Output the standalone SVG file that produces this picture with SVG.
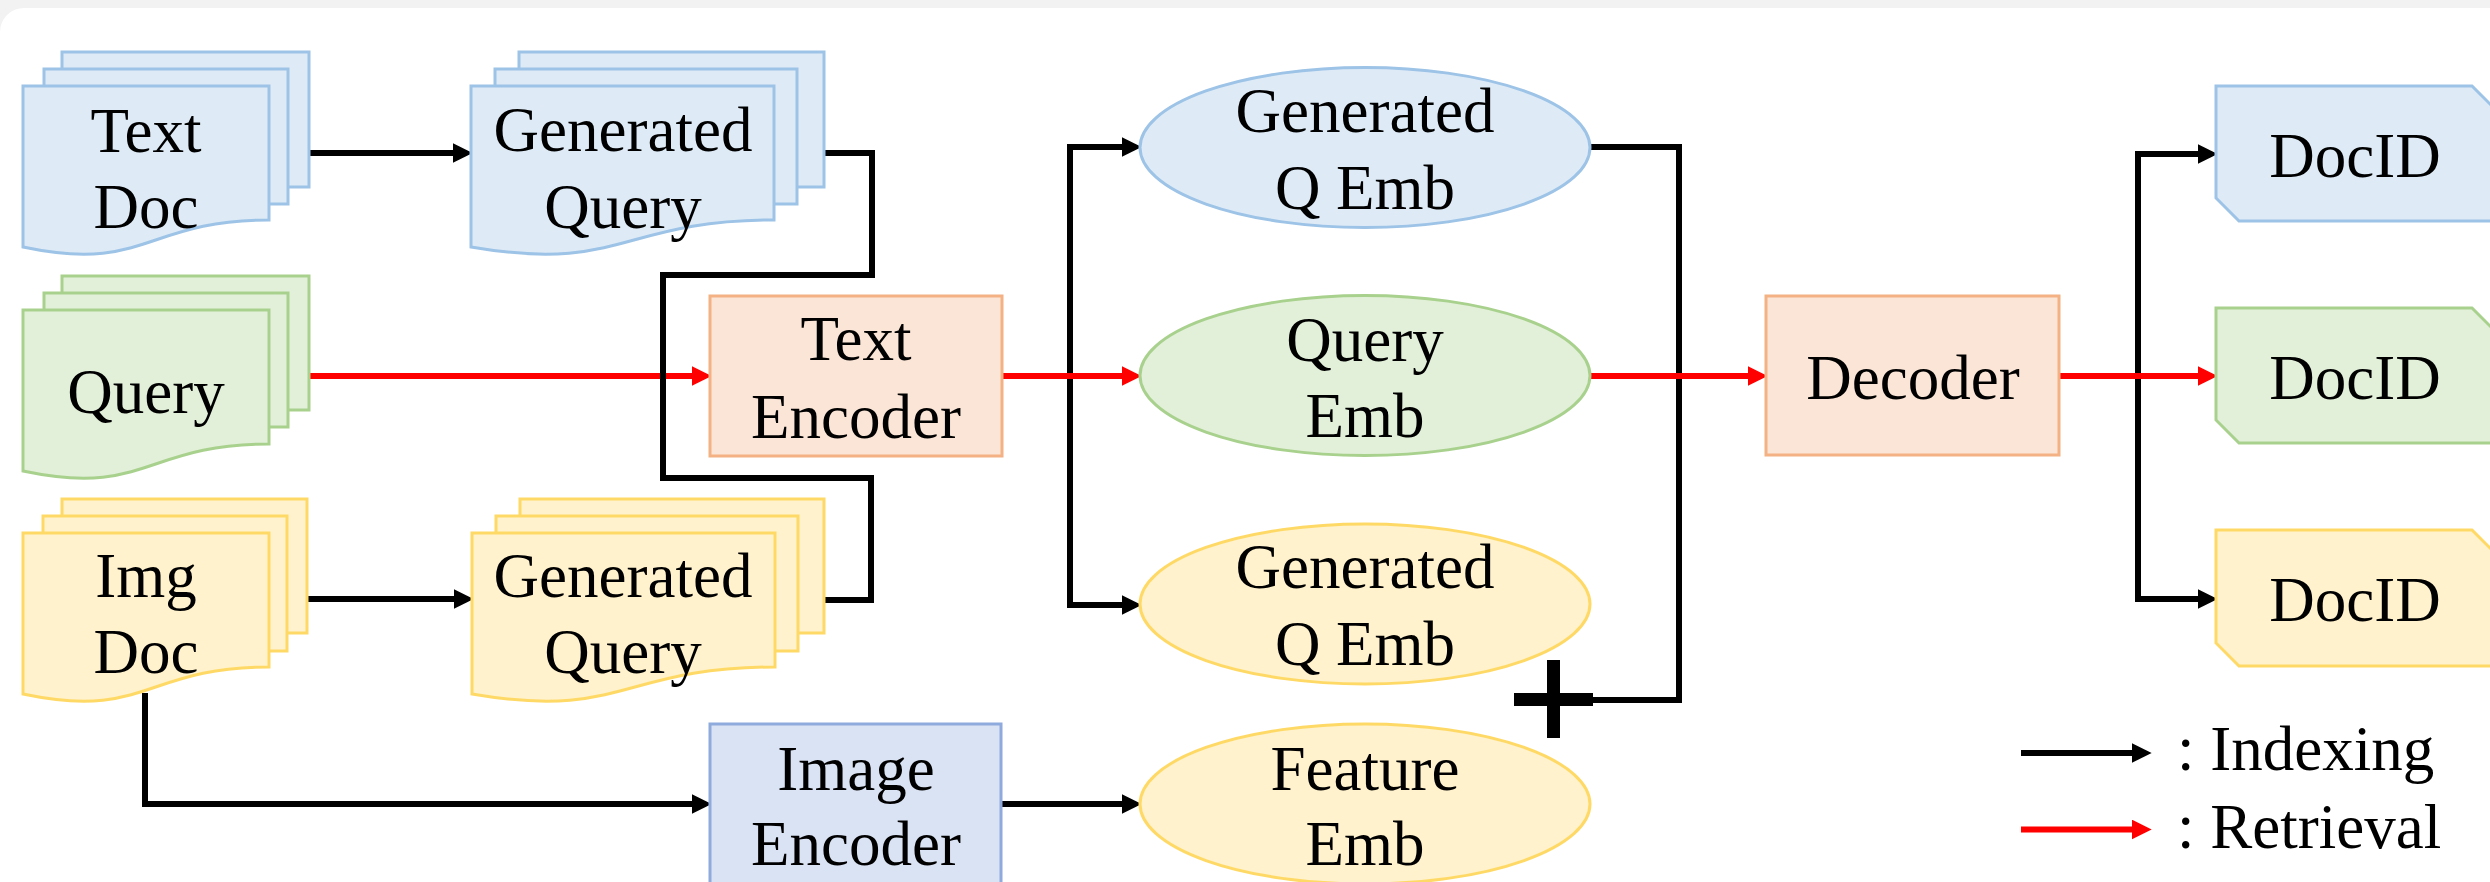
<svg xmlns="http://www.w3.org/2000/svg" width="2490" height="882" viewBox="0 0 2490 882">
<defs>
<style>
text{font-family:"Liberation Serif","Times New Roman",serif;font-size:63px;fill:#000;text-anchor:middle}
.blue{fill:#deebf7;stroke:#9dc3e6;stroke-width:3}
.green{fill:#e2f0d9;stroke:#a9d18e;stroke-width:3}
.yellow{fill:#fff2cc;stroke:#ffd966;stroke-width:3}
.orange{fill:#fbe5d6;stroke:#f4b183;stroke-width:3}
.iblue{fill:#dae3f3;stroke:#8faadc;stroke-width:3}
.bl{fill:none;stroke:#000;stroke-width:6}
.rd{fill:none;stroke:#ff0000;stroke-width:6}
.ab{marker-end:url(#ahb)}
.ar{marker-end:url(#ahr)}
</style>
<marker id="ahb" markerUnits="userSpaceOnUse" markerWidth="20" markerHeight="20" viewBox="0 0 18 18" refX="3" refY="9" orient="auto"><path d="M0,0 L18,9 L0,18 Z" fill="#000"/></marker>
<marker id="ahr" markerUnits="userSpaceOnUse" markerWidth="20" markerHeight="20" viewBox="0 0 18 18" refX="3" refY="9" orient="auto"><path d="M0,0 L18,9 L0,18 Z" fill="#ff0000"/></marker>
</defs>
<rect x="0" y="0" width="2490" height="882" fill="#f2f2f2"/>
<rect x="0" y="8" width="2520" height="900" rx="24" fill="#ffffff"/>

<g id="connectors">
<path class="bl ab" d="M309,153 H456"/>
<path class="bl ab" d="M307,599 H457"/>
<path class="bl ab" d="M1070,376 V147 H1125"/>
<path class="bl ab" d="M1070,376 V605 H1125"/>
<path class="bl" d="M1590,147 H1679 V700 H1592"/>
<path class="bl ab" d="M2138,376 V154 H2201"/>
<path class="bl ab" d="M2138,376 V599 H2201"/>
<path class="bl ab" d="M145,693 V804 H695"/>
<path class="bl ab" d="M1001,804 H1125"/>
<path class="rd ar" d="M309,376 H695"/>
<path class="rd ar" d="M1002,376 H1125"/>
<path class="rd ar" d="M1590,376 H1751"/>
<path class="rd ar" d="M2059,376 H2201"/>
<path class="bl" d="M824,153 H872 V275 H663 V478 H871 V600 H824"/>
</g>

<g id="text-doc">
<rect class="blue" x="62" y="52" width="247" height="135"/>
<rect class="blue" x="44" y="69" width="244" height="135"/>
<path class="blue" d="M23,86 H269 V220 C146,220 146,273 23,247 Z"/>
<text x="146" y="152">Text</text>
<text x="146" y="228">Doc</text>
</g>

<g id="gen-query-text">
<rect class="blue" x="519" y="52" width="305" height="135"/>
<rect class="blue" x="495" y="69" width="302" height="135"/>
<path class="blue" d="M471,86 H774 V220 C622,220 622,273 471,247 Z"/>
<text x="623" y="151">Generated</text>
<text x="623" y="228">Query</text>
</g>

<g id="query">
<rect class="green" x="62" y="276" width="247" height="134"/>
<rect class="green" x="44" y="293" width="244" height="134"/>
<path class="green" d="M23,310 H269 V444 C146,444 146,497 23,471 Z"/>
<text x="146" y="413">Query</text>
</g>

<g id="img-doc">
<rect class="yellow" x="62" y="499" width="245" height="134"/>
<rect class="yellow" x="43" y="516" width="244" height="135"/>
<path class="yellow" d="M23,533 H269 V667 C146,667 146,720 23,694 Z"/>
<text x="146" y="597">Img</text>
<text x="146" y="673">Doc</text>
</g>

<g id="gen-query-img">
<rect class="yellow" x="520" y="499" width="304" height="134"/>
<rect class="yellow" x="496" y="516" width="302" height="135"/>
<path class="yellow" d="M472,533 H775 V667 C623,667 623,720 472,694 Z"/>
<text x="623" y="597">Generated</text>
<text x="623" y="673">Query</text>
</g>

<g id="text-encoder">
<rect class="orange" x="710" y="296" width="292" height="160"/>
<text x="856" y="360">Text</text>
<text x="856" y="438">Encoder</text>
</g>

<g id="image-encoder">
<rect class="iblue" x="710" y="724" width="291" height="165"/>
<text x="856" y="790">Image</text>
<text x="856" y="865">Encoder</text>
</g>

<g id="gen-q-emb-text">
<ellipse class="blue" cx="1365" cy="147.5" rx="225" ry="80"/>
<text x="1365" y="132">Generated</text>
<text x="1365" y="209">Q Emb</text>
</g>

<g id="query-emb">
<ellipse class="green" cx="1365" cy="375.5" rx="225" ry="80"/>
<text x="1365" y="361">Query</text>
<text x="1365" y="437">Emb</text>
</g>

<g id="gen-q-emb-img">
<ellipse class="yellow" cx="1365" cy="604" rx="225" ry="80"/>
<text x="1365" y="588">Generated</text>
<text x="1365" y="665">Q Emb</text>
</g>

<g id="feature-emb">
<ellipse class="yellow" cx="1365" cy="804" rx="225" ry="80"/>
<text x="1365" y="790">Feature</text>
<text x="1365" y="865">Emb</text>
</g>

<g id="plus">
<rect x="1514" y="693" width="79" height="13" fill="#000"/>
<rect x="1547" y="660" width="13" height="78" fill="#000"/>
</g>

<g id="decoder">
<rect class="orange" x="1766" y="296" width="293" height="159"/>
<text x="1913" y="399">Decoder</text>
</g>

<g id="docid-text">
<path class="blue" d="M2216,86 H2472 L2495,109 V221 H2239 L2216,198 Z"/>
<text x="2355" y="177">DocID</text>
</g>

<g id="docid-query">
<path class="green" d="M2216,308 H2472 L2495,331 V443 H2239 L2216,420 Z"/>
<text x="2355" y="399">DocID</text>
</g>

<g id="docid-img">
<path class="yellow" d="M2216,530 H2472 L2495,553 V666 H2239 L2216,643 Z"/>
<text x="2355" y="621">DocID</text>
</g>

<g id="legend">
<path class="bl ab" d="M2021,753 H2135"/>
<path class="rd ar" d="M2021,829.5 H2135"/>
<text x="2177" y="770" style="text-anchor:start">: Indexing</text>
<text x="2177" y="848" style="text-anchor:start">: Retrieval</text>
</g>
</svg>
